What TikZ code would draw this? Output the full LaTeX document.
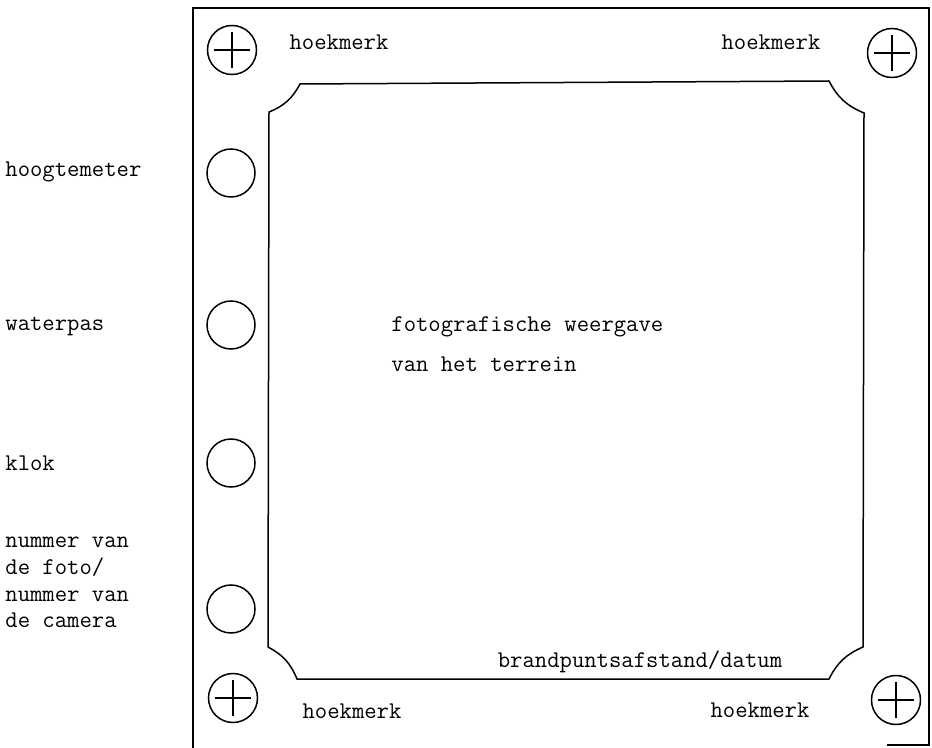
\documentclass[tikz,border=0pt]{standalone}
\usetikzlibrary{positioning}

\begin{document}
\begin{tikzpicture}[x=0.5pt,y=-0.5pt,
        lijn/.style={line width=0.75pt},
        hoek/.style={bend right=20},
        venster/.style={circle,draw,line width=0.75pt,minimum size=24pt,inner sep=0pt},
        merk/.style={venster,minimum size=24.5pt,path picture={
            \draw[line width=0.7pt] ([xshift=-9pt]path picture bounding box.center) -- ([xshift=9pt]path picture bounding box.center);
            \draw[line width=0.7pt] ([yshift=-9pt]path picture bounding box.center) -- ([yshift=9pt]path picture bounding box.center);}},
        tekst/.style={font=\fontsize{12}{13.3}\selectfont\ttfamily,inner sep=0pt}]
        \useasboundingbox (0,0) rectangle (932,748);
        % filmrand (onderkant valt grotendeels buiten beeld)
        \draw[lijn] (193,748) -- (193,8) -- (929,8) -- (929,745) -- (887,745);
        % beeldvlak
        \draw[lijn] (269,112) to[hoek] (300,84)
            -- (829,81) to[hoek] (864,113)
            -- (863,647) to[hoek] (829,679)
            -- (297,679) to[hoek] (268,647) -- cycle;
        % hoekmerken
        \node[merk] (hlb) at (232,50) {};
        \node[merk] (hrb) at (892,53) {};
        \node[merk] (hlo) at (233,698) {};
        \node[merk] (hro) at (896,700) {};
        \node[tekst,anchor=base] (thlb) at (339,50) {hoekmerk};
        \node[tekst,anchor=base] (thrb) at (771,50) {hoekmerk};
        \node[tekst,anchor=base] (thlo) at (352,718) {hoekmerk};
        \node[tekst,anchor=base] (thro) at (760,717) {hoekmerk};
        % instrumenten
        \node[venster] (hoogte) at (231,173) {};
        \node[venster] (water) at (231,325) {};
        \node[venster] (klok) at (231,463) {};
        \node[venster] (nummer) at (231,609) {};
        \node[tekst,anchor=base west] (thoogte) at (5,177) {hoogtemeter};
        \node[tekst,anchor=base west] (twater) at (5,331) {waterpas};
        \node[tekst,anchor=base west] (tklok) at (5,471) {klok};
        \node[tekst,anchor=north west,align=left] (tnummer) at (5,537) {nummer van\\de foto/\\nummer van\\de camera};
        % beeld
        \node[tekst,anchor=base west] (foto) at (391,332) {fotografische weergave};
        \node[tekst,anchor=base west] (terrein) at (391,372) {van het terrein};
        \node[tekst,anchor=base] (brand) at (640,667) {brandpuntsafstand/datum};
\end{tikzpicture}
\end{document}
